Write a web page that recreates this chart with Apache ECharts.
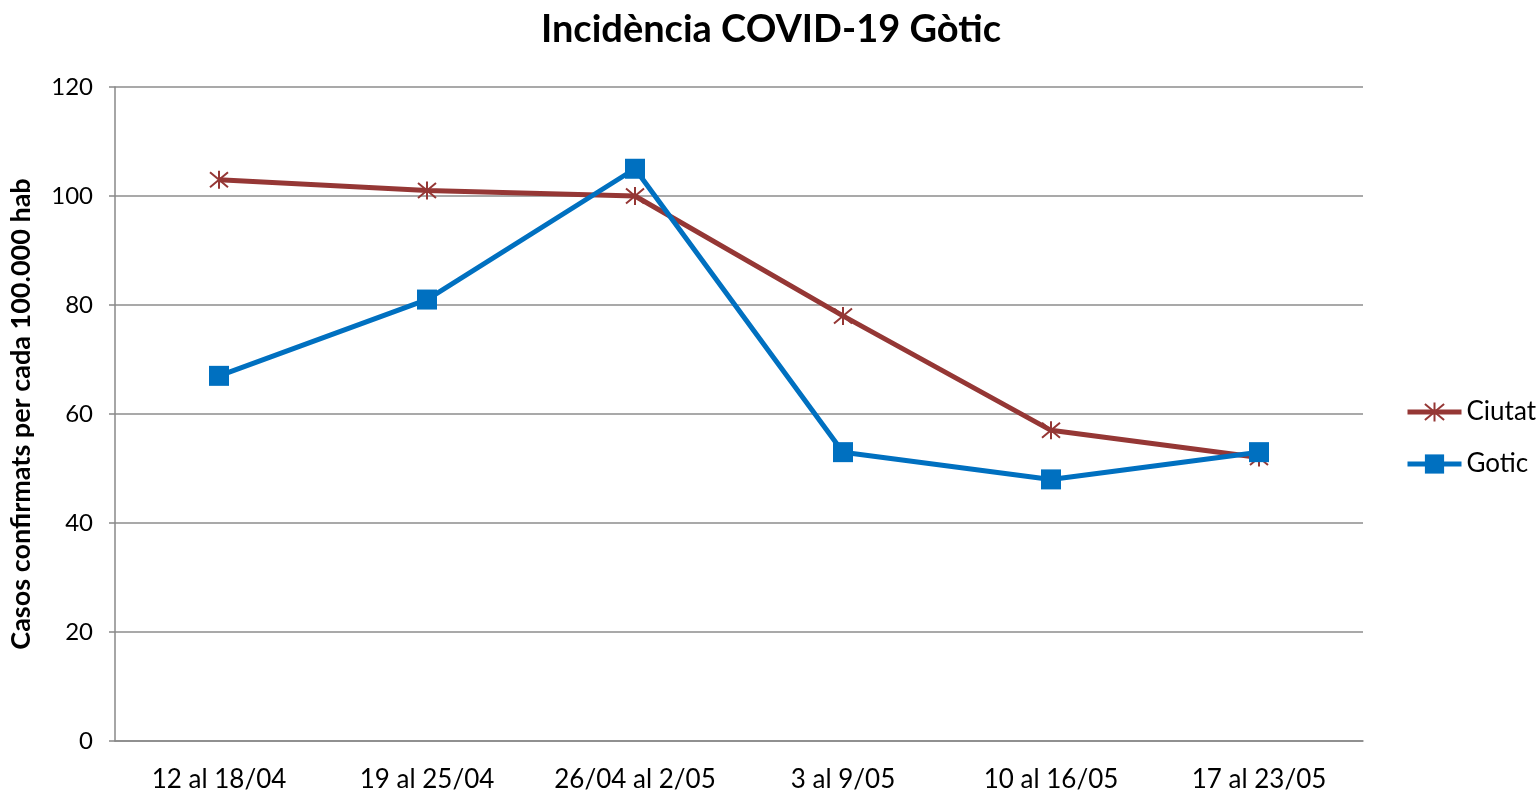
<!DOCTYPE html>
<html><head><meta charset="utf-8">
<script src="https://cdn.jsdelivr.net/npm/echarts@6/dist/echarts.min.js"></script>
<style>html,body{margin:0;padding:0;background:#fff}#c{width:1539px;height:795px}</style>
</head><body><div id="c"></div>
<script>
const categories = ['12 al 18/04','19 al 25/04','26/04 al 2/05','3 al 9/05','10 al 16/05','17 al 23/05'];
const ciutat = [103, 101, 100, 78, 57, 52];
const gotic = [67, 81, 105, 53, 48, 53];
const yTicks = {min: 0, max: 120, interval: 20};

const FONT = 'Lato, "Open Sans", sans-serif';
const asterisk = 'path://M0,0L10,10M10,0L0,10M5,-1L5,11';
const chart = echarts.init(document.getElementById('c'));
chart.setOption({
  animation: false,
  title: {text: 'Incidència COVID-19 Gòtic', left: 766, textAlign: 'center', top: 6,
    textStyle: {fontFamily: FONT, fontSize: 38, fontWeight: 'bold', color: '#000'}},
  grid: {left: 115, right: 176, top: 87, bottom: 54},
  legend: {orient: 'vertical', left: 1400, top: 394, itemWidth: 54, itemHeight: 24, itemGap: 26,
    textStyle: {fontFamily: FONT, fontSize: 26, color: '#000'},
    lineStyle: {width: 5},
    data: ['Ciutat','Gotic']},
  xAxis: {type: 'category', data: categories, boundaryGap: true,
    axisLine: {lineStyle: {color: '#888', width: 1.5}},
    axisTick: {inside: true, length: 9, lineStyle: {color: '#888', width: 1.5}},
    axisLabel: {fontFamily: FONT, fontSize: 26, color: '#000', margin: 26, interval: 0}},
  yAxis: {type: 'value', min: yTicks.min, max: yTicks.max, interval: yTicks.interval,
    name: 'Casos confirmats per cada 100.000 hab', nameLocation: 'middle', nameGap: 80, nameRotate: 90,
    nameTextStyle: {fontFamily: FONT, fontSize: 27, fontWeight: 'bold', color: '#000'},
    axisLine: {show: true, lineStyle: {color: '#888', width: 1.5}},
    axisTick: {show: true, length: 6, lineStyle: {color: '#888', width: 1.5}},
    splitLine: {lineStyle: {color: '#8c8c8c', width: 1.5}},
    axisLabel: {fontFamily: FONT, fontSize: 24, color: '#000', margin: 22}},
  series: [
    {name: 'Ciutat', type: 'line', data: ciutat, symbol: asterisk, symbolSize: 18,
      lineStyle: {color: '#953735', width: 5}, itemStyle: {color: 'none', borderColor: '#953735', borderWidth: 2}, z: 2},
    {name: 'Gotic', type: 'line', data: gotic, symbol: 'rect', symbolSize: 20,
      lineStyle: {color: '#0070C0', width: 5}, itemStyle: {color: '#0070C0'}, z: 3}
  ]
});
</script></body></html>
